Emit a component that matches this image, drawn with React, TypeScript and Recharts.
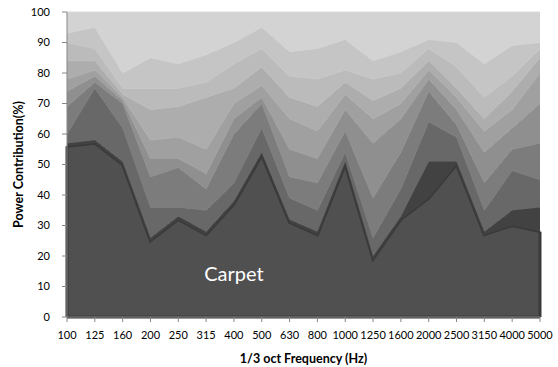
import React from "react";
import {
  AreaChart,
  Area,
  XAxis,
  YAxis,
  ReferenceLine,
  ReferenceDot,
} from "recharts";

const frequencies = [
  "100", "125", "160", "200", "250", "315", "400", "500", "630",
  "800", "1000", "1250", "1600", "2000", "2500", "3150", "4000", "5000",
];

// power contribution (%) of each source, bottom to top
const carpet = [56, 57, 50, 25, 32, 27, 37, 53, 31, 27, 50, 19, 32, 39, 50, 27, 30, 28];
const layer2 = [1, 1, 1, 1, 1, 1, 1, 1, 1, 1, 1, 1, 1, 12, 1, 1, 5, 8];
const layer3 = [3, 17, 11, 10, 3, 7, 6, 8, 7, 7, 3, 6, 9, 13, 8, 7, 13, 9];
const layer4 = [9, 2, 8, 10, 13, 7, 16, 8, 7, 9, 7, 13, 12, 10, 4, 9, 7, 12];
const layer5 = [5, 2, 1, 6, 3, 5, 5, 2, 9, 8, 7, 18, 11, 4, 5, 10, 7, 13];
const layer6 = [4, 2, 1, 6, 7, 8, 5, 4, 10, 9, 5, 8, 5, 3, 4, 7, 6, 10];
const layer7 = [6, 3, 1, 10, 10, 17, 5, 6, 7, 8, 4, 6, 5, 3, 3, 4, 6, 5];
const layer8 = [6, 4, 2, 7, 6, 5, 8, 6, 7, 9, 4, 7, 5, 4, 7, 7, 5, 3];
const layer9 = [3, 7, 5, 10, 8, 9, 7, 7, 8, 10, 10, 6, 7, 3, 8, 11, 10, 2];
const layer10 = [7, 5, 20, 15, 17, 14, 10, 5, 13, 12, 9, 16, 13, 9, 10, 17, 11, 10];

const yTicks = [0, 10, 20, 30, 40, 50, 60, 70, 80, 90, 100];

const layers = [
  { key: "carpet", values: carpet, fill: "#505050", stroke: "#3a3a3a", width: 3 },
  { key: "layer2", values: layer2, fill: "#424242", stroke: "#484848", width: 1 },
  { key: "layer3", values: layer3, fill: "#686868", stroke: "#777777", width: 1 },
  { key: "layer4", values: layer4, fill: "#7c7c7c", stroke: "#8c8c8c", width: 1 },
  { key: "layer5", values: layer5, fill: "#8f8f8f", stroke: "#9f9f9f", width: 1 },
  { key: "layer6", values: layer6, fill: "#a0a0a0", stroke: "#afafaf", width: 1 },
  { key: "layer7", values: layer7, fill: "#adadad", stroke: "#bbbbbb", width: 1 },
  { key: "layer8", values: layer8, fill: "#bbbbbb", stroke: "#c7c7c7", width: 1 },
  { key: "layer9", values: layer9, fill: "#c5c5c5", stroke: "#d0d0d0", width: 1 },
  { key: "layer10", values: layer10, fill: "#d3d3d3", stroke: "#dadada", width: 1 },
];

const data = frequencies.map((f, i) => {
  const row: Record<string, string | number> = { freq: f };
  layers.forEach((l) => {
    row[l.key] = l.values[i];
  });
  return row;
});

const font = "Lato, 'Open Sans', sans-serif";
const last = frequencies.length - 1;

export default function App() {
  return (
    <div style={{ position: "absolute", left: 0, top: 0, background: "#fff" }}>
      <AreaChart
        width={558}
        height={367}
        data={data}
        margin={{ top: 12, right: 18, left: 17, bottom: 22 }}
      >
        <XAxis
          dataKey="freq"
          height={28}
          interval={0}
          stroke="#868686"
          tickSize={5}
          tickMargin={9}
          tick={{ fill: "#000", fontSize: 11, fontFamily: font }}
          label={{
            value: "1/3 oct Frequency (Hz)",
            position: "insideBottom",
            offset: -18,
            style: { fontWeight: "bold", fontSize: 12.5, fill: "#000", fontFamily: font },
          }}
        />
        <YAxis
          width={50}
          domain={[0, 100]}
          ticks={yTicks}
          stroke="#868686"
          tickSize={5}
          tickMargin={12}
          tick={{ fill: "#000", fontSize: 11, fontFamily: font }}
          label={{
            value: "Power Contribution(%)",
            angle: -90,
            position: "insideLeft",
            offset: 2,
            style: {
              textAnchor: "middle",
              fontWeight: "bold",
              fontSize: 12.5,
              fill: "#000",
              fontFamily: font,
            },
          }}
        />
        {layers.map((l) => (
          <Area
            key={l.key}
            dataKey={l.key}
            stackId="a"
            type="linear"
            fill={l.fill}
            fillOpacity={1}
            stroke={l.stroke}
            strokeWidth={l.width}
            isAnimationActive={false}
            activeDot={false}
          />
        ))}
        <ReferenceLine y={0} stroke="#3a3a3a" strokeWidth={3} />
        <ReferenceLine
          segment={[
            { x: frequencies[0], y: 0 },
            { x: frequencies[0], y: carpet[0] },
          ]}
          stroke="#3a3a3a"
          strokeWidth={3}
        />
        <ReferenceLine
          segment={[
            { x: frequencies[last], y: 0 },
            { x: frequencies[last], y: carpet[last] },
          ]}
          stroke="#3a3a3a"
          strokeWidth={3}
        />
        <ReferenceDot
          x="400"
          y={14}
          r={0}
          fill="none"
          stroke="none"
          label={{
            value: "Carpet",
            position: "center",
            fill: "#ffffff",
            fontSize: 20,
            fontFamily: font,
          }}
        />
      </AreaChart>
    </div>
  );
}
